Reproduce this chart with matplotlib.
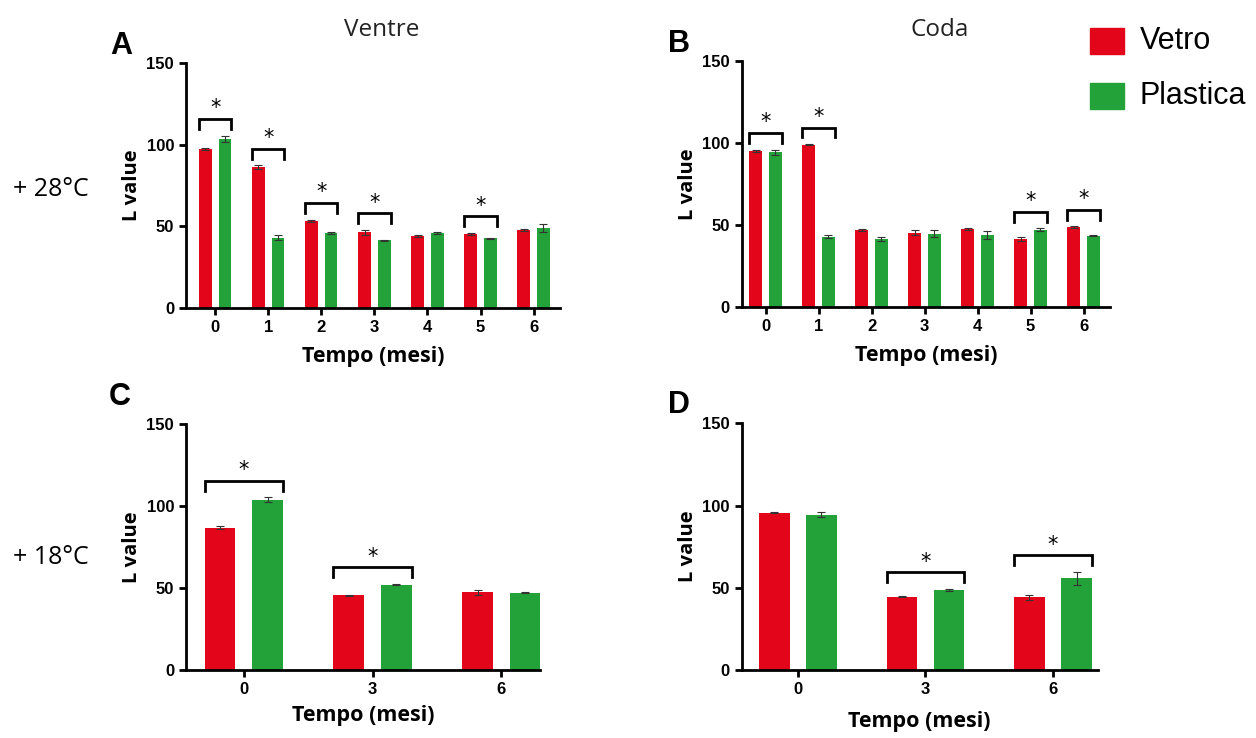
import matplotlib
matplotlib.use("Agg")
from matplotlib import pyplot as plt
import numpy as np

plt.rcParams['font.family'] = ['Open Sans', 'DejaVu Sans']

RED = '#E3061A'
GREEN = '#23A23A'

# dati pannello A (+28°C, ventre)
mesi_a = ['0', '1', '2', '3', '4', '5', '6']
vetro_a = [97.4, 86.3, 53.3, 46.4, 44.3, 45.3, 47.6]
vetro_a_err = [0.5, 1.2, 0.8, 1.5, 0.6, 0.8, 0.6]
plastica_a = [103.5, 43.0, 45.8, 41.4, 46.1, 42.7, 49.2]
plastica_a_err = [2.0, 1.5, 0.5, 0.4, 0.7, 0.4, 2.5]
sig_a = [0, 1, 2, 3, 5]

# dati pannello B (+28°C, coda)
mesi_b = ['0', '1', '2', '3', '4', '5', '6']
vetro_b = [95.1, 98.8, 46.8, 45.1, 47.2, 41.3, 48.4]
vetro_b_err = [0.5, 0.4, 0.7, 1.5, 0.7, 1.0, 0.7]
plastica_b = [94.3, 42.7, 41.3, 44.6, 43.9, 47.0, 43.4]
plastica_b_err = [1.5, 0.8, 1.5, 2.0, 2.5, 0.8, 0.5]
sig_b = [0, 1, 5, 6]

# dati pannello C (+18°C, ventre)
mesi_c = ['0', '3', '6']
vetro_c = [86.9, 45.6, 47.6]
vetro_c_err = [1.0, 0.3, 1.5]
plastica_c = [104.0, 52.2, 47.3]
plastica_c_err = [1.5, 0.4, 0.3]
sig_c = [0, 1]

# dati pannello D (+18°C, coda)
mesi_d = ['0', '3', '6']
vetro_d = [95.5, 44.7, 44.2]
vetro_d_err = [0.3, 0.3, 1.5]
plastica_d = [94.4, 48.8, 55.7]
plastica_d_err = [1.5, 0.5, 4.0]
sig_d = [1, 2]

fig = plt.figure(figsize=(12.56, 7.38), dpi=100)


def draw_panel(rect, labels, vetro, vetro_err, plastica, plastica_err, sig, xlim, pad=8):
    ax = fig.add_axes(rect)
    x = np.arange(len(labels))
    w = 0.24
    off = 0.185
    ax.bar(x - off, vetro, w, color=RED, yerr=vetro_err,
           error_kw=dict(ecolor='#333333', elinewidth=0.8, capsize=3, capthick=0.8))
    ax.bar(x + off, plastica, w, color=GREEN, yerr=plastica_err,
           error_kw=dict(ecolor='#333333', elinewidth=0.8, capsize=3, capthick=0.8))
    # parentesi di significatività
    for i in sig:
        top = max(vetro[i] + vetro_err[i], plastica[i] + plastica_err[i]) + 10
        x0 = x[i] - off - w / 2
        x1 = x[i] + off + w / 2
        ax.plot([x0, x0, x1, x1], [top - 6, top, top, top - 6], color='black', lw=2,
                solid_joinstyle='miter', clip_on=False)
        ax.text((x0 + x1) / 2, top + 0.5, '*', ha='center', va='bottom', fontsize=15,
                family='DejaVu Sans')
    ax.set_xlim(*xlim)
    ax.set_ylim(0, 150)
    ax.set_yticks([0, 50, 100, 150])
    ax.set_xticks(x)
    ax.set_xticklabels(labels)
    for sp in ['top', 'right']:
        ax.spines[sp].set_visible(False)
    for sp in ['left', 'bottom']:
        ax.spines[sp].set_linewidth(2)
    ax.tick_params(width=2, length=5, labelsize=12)
    for lab in ax.get_xticklabels() + ax.get_yticklabels():
        lab.set_fontweight('bold')
        lab.set_family('Liberation Sans')
    ax.set_xlabel('Tempo (mesi)', fontsize=15.5, fontweight='bold', labelpad=pad)
    ax.set_ylabel('L value', fontsize=14.5, fontweight='bold', labelpad=3)
    return ax


draw_panel([0.148, 0.5827, 0.298, 0.332], mesi_a, vetro_a, vetro_a_err,
           plastica_a, plastica_a_err, sig_a, (-0.55, 6.5))
draw_panel([0.5905, 0.5844, 0.2933, 0.3333], mesi_b, vetro_b, vetro_b_err,
           plastica_b, plastica_b_err, sig_b, (-0.45, 6.5))
draw_panel([0.148, 0.0921, 0.282, 0.3329], mesi_c, vetro_c, vetro_c_err,
           plastica_c, plastica_c_err, sig_c, (-0.45, 2.3), pad=6)
draw_panel([0.5905, 0.0921, 0.2835, 0.3343], mesi_d, vetro_d, vetro_d_err,
           plastica_d, plastica_d_err, sig_d, (-0.44, 2.35), pad=10)

# titoli e lettere dei pannelli
fig.text(382 / 1256, 1 - 30 / 738, 'Ventre', fontsize=17.5, ha='center', va='center', color='#222222')
fig.text(940 / 1256, 1 - 30 / 738, 'Coda', fontsize=17.5, ha='center', va='center', color='#222222')
for lettera, px, py in [('A', 121, 46), ('B', 679, 44), ('C', 120, 397), ('D', 679, 405)]:
    fig.text(px / 1256, 1 - py / 738, lettera, fontsize=22, fontweight='bold',
             family='Liberation Sans', ha='center', va='center')
fig.text(13 / 1256, 1 - 190 / 738, '+ 28°C', fontsize=18, ha='left', va='center')
fig.text(13 / 1256, 1 - 558 / 738, '+ 18°C', fontsize=18, ha='left', va='center')

# legenda
fig.patches.append(plt.Rectangle((1090 / 1256, 1 - 54 / 738), 34 / 1256, 26 / 738,
                                 transform=fig.transFigure, color=RED))
fig.patches.append(plt.Rectangle((1090 / 1256, 1 - 109 / 738), 34 / 1256, 26 / 738,
                                 transform=fig.transFigure, color=GREEN))
fig.text(1140 / 1256, 1 - 41 / 738, 'Vetro', fontsize=22, family='Liberation Sans', ha='left', va='center')
fig.text(1140 / 1256, 1 - 96 / 738, 'Plastica', fontsize=22, family='Liberation Sans', ha='left', va='center')

fig.savefig('out.png', dpi=100)
